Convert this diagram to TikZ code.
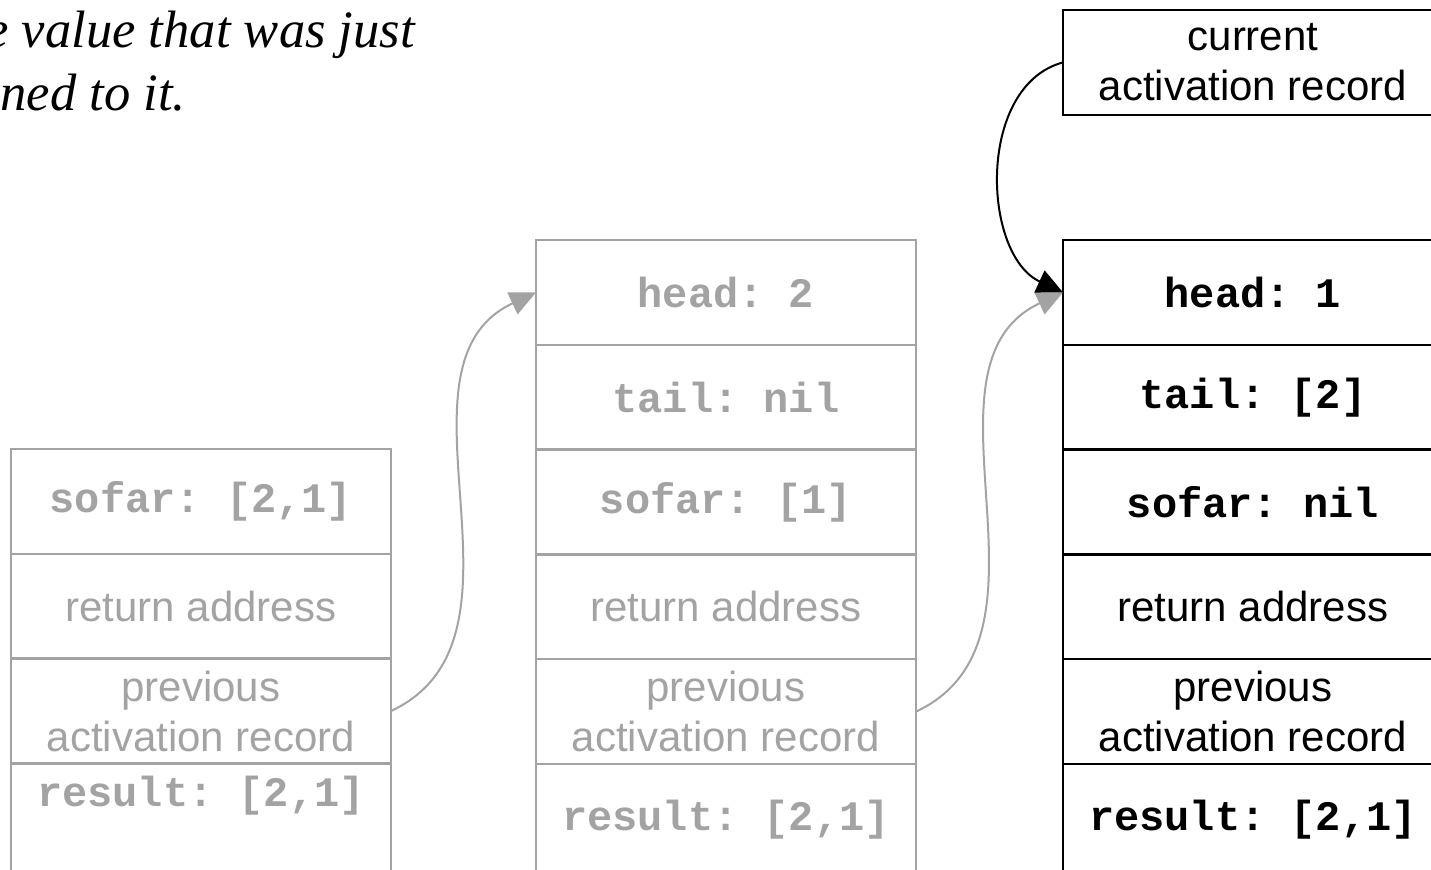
\documentclass[tikz,border=0pt]{standalone}
\usepackage{fontspec}
\setmainfont{Liberation Serif}
\setsansfont{Liberation Sans}
\setmonofont{Liberation Mono}
\usepackage{xcolor}
\usetikzlibrary{arrows.meta, positioning}
\definecolor{faded}{gray}{0.64}

\begin{document}
\begin{tikzpicture}[
        x=0.5pt, y=-0.5pt,
        node distance=0pt,
        cell/.style={rectangle, draw, line width=1.2pt, minimum width=190pt, minimum height=52.4pt, inner sep=0pt, outer sep=0pt, align=center},
        word/.style={cell, font=\sffamily\fontsize{21}{25}\selectfont},
        code/.style={cell, font=\ttfamily\bfseries\fontsize{21}{25}\selectfont},
        result/.style={code, minimum height=70pt, text height=14pt, text depth=18pt},
        old/.style={draw=faded, text=faded},
        link/.style={line width=1pt, -{Triangle[length=13pt, width=12pt]}},
        note/.style={font=\itshape\fontsize{26.3}{31.5}\selectfont, inner sep=0pt, anchor=base west}
    ]
        \useasboundingbox (0,0) rectangle (1431,869);
        \clip (0,0) rectangle (1431,869);

        % running text above
        \node[note] (noteA) at (-15,47) {e value that was just};
        \node[note] (noteB) at (0,110) {ned to it.};

        % oldest record
        \node[code, old, anchor=north] (sofarA) at (201,449) {sofar: [2,1]};
        \node[word, old, below=of sofarA] (retA) {return address};
        \node[word, old, below=of retA] (prevA) {previous\\activation record};
        \node[result, old, below=of prevA, text depth=41pt] (resA) {result: [2,1]};

        % middle record
        \node[code, old, anchor=north] (headB) at (726,240) {head: 2};
        \node[code, old, below=of headB] (tailB) {tail: nil};
        \node[code, old, below=of tailB] (sofarB) {sofar: [1]};
        \node[word, old, below=of sofarB] (retB) {return address};
        \node[word, old, below=of retB] (prevB) {previous\\activation record};
        \node[result, old, below=of prevB] (resB) {result: [2,1]};

        % current record
        \node[word, anchor=north] (cur) at (1253,10) {current\\activation record};
        \node[code, anchor=north] (headC) at (1253,240) {head: 1};
        \node[code, below=of headC] (tailC) {tail: [2]};
        \node[code, below=of tailC] (sofarC) {sofar: nil};
        \node[word, below=of sofarC] (retC) {return address};
        \node[word, below=of retC] (prevC) {previous\\activation record};
        \node[result, below=of prevC] (resC) {result: [2,1]};

        % links
        \draw[link, faded] (prevA.east) to[out=25, in=205] (headB.west);
        \draw[link, faded] (prevB.east) to[out=25, in=205] (headC.west);
        \draw[link] (cur.west) to[out=195, in=155] (headC.west);
    \end{tikzpicture}
\end{document}
